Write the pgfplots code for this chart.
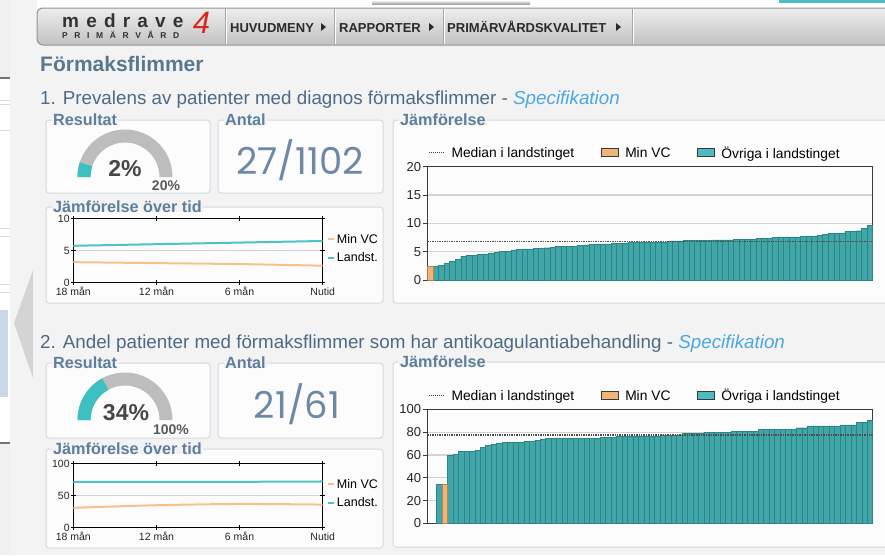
\documentclass[border=0pt]{standalone}
\usepackage{pgfplots}
\usepackage{pgfplotstable}
\pgfplotsset{compat=1.18}
\usepackage{fontspec}
\setmainfont{Liberation Sans}
\newfontfamily\numfont{Poppins}
\newcommand{\fs}[1]{\fontsize{#1}{#1}\selectfont}

\definecolor{pagebg}{HTML}{F3F3F3}
\definecolor{boxbg}{HTML}{FCFCFC}
\definecolor{boxline}{HTML}{D3DAE2}
\definecolor{titleblue}{HTML}{5E7E9D}
\definecolor{headblue}{HTML}{587892}
\definecolor{secblue}{HTML}{4C6A88}
\definecolor{speclink}{HTML}{4BA7E0}
\definecolor{barteal}{HTML}{41A6A7}
\definecolor{baredge}{HTML}{2E8485}
\definecolor{legteal}{HTML}{4DBDBF}
\definecolor{barorange}{HTML}{F0B677}
\definecolor{orangeedge}{HTML}{B98248}
\definecolor{lineteal}{HTML}{4CC3C6}
\definecolor{lineorange}{HTML}{F6C18C}
\definecolor{gaugegray}{HTML}{BDBDBD}
\definecolor{gaugeteal}{HTML}{3DC0C1}
\definecolor{antalcol}{HTML}{6C89A6}
\definecolor{gridgray}{HTML}{D2D2D2}
\definecolor{axisdark}{HTML}{3A3A3A}
\definecolor{menutext}{HTML}{2B2B2B}
\definecolor{logored}{HTML}{D42A1E}
\definecolor{sideblue}{HTML}{C9D7E6}

% ---------- data ----------
\pgfplotstableread{
x y
1 2.45
}\barAmin
\pgfplotstableread{
x y
2 2.4
3 2.6
4 2.9
5 3.3
6 3.6
7 4.2
8 4.4
9 4.4
10 4.5
11 4.6
12 4.8
13 4.9
14 5.0
15 5.1
16 5.3
17 5.4
18 5.5
19 5.5
20 5.6
21 5.6
22 5.7
23 5.8
24 5.9
25 5.9
26 6.0
27 6.0
28 6.1
29 6.2
30 6.3
31 6.4
32 6.4
33 6.4
34 6.5
35 6.5
36 6.5
37 6.6
38 6.6
39 6.6
40 6.6
41 6.7
42 6.7
43 6.7
44 6.8
45 6.9
46 6.9
47 7.0
48 7.0
49 7.0
50 7.0
51 7.0
52 7.1
53 7.1
54 7.1
55 7.1
56 7.2
57 7.2
58 7.2
59 7.2
60 7.3
61 7.4
62 7.4
63 7.5
64 7.6
65 7.6
66 7.6
67 7.6
68 7.7
69 7.8
70 7.8
71 7.9
72 8.0
73 8.2
74 8.2
75 8.3
76 8.6
77 8.6
78 8.7
79 9.1
80 9.7
}\barAteal
\pgfplotstableread{
x y
2 34.4
}\barBmin
\pgfplotstableread{
x y
1 34.4
3 59.6
4 60.4
5 63
6 63
7 63
8 64
9 67
10 68.5
11 69.5
12 70.5
13 71
14 71
15 71
16 71
17 72
18 72
19 73
20 74
21 74.5
22 74.5
23 74.5
24 74.5
25 74.5
26 74.5
27 74.5
28 74.5
29 74.5
30 74.5
31 75.8
32 75.8
33 75.8
34 76.9
35 76.9
36 76.9
37 76.9
38 76.9
39 76.9
40 76.9
41 76.9
42 77.8
43 77.8
44 77.8
45 77.8
46 79.3
47 79.3
48 79.3
49 79.3
50 80.2
51 80.2
52 80.2
53 80.2
54 80.2
55 80.7
56 80.7
57 80.7
58 80.7
59 80.7
60 82.8
61 82.8
62 82.8
63 82.8
64 82.8
65 82.8
66 82.8
67 84
68 84
69 85.7
70 85.7
71 85.7
72 85.7
73 85.7
74 85.7
75 86.6
76 86.6
77 86.6
78 88.6
79 88.6
80 91
}\barBteal
\pgfplotstableread{
x vc land
0 3.2 5.75
6 3.05 6.0
12 2.9 6.25
18 2.65 6.5
}\lineA
\pgfplotstableread{
x vc land
0 31 71.5
6 35 71.5
12 37 71.5
18 36 72
}\lineB

\pgfplotsset{
  legline/.style={legend image code/.code={\draw[##1] (0pt,0pt) -- (16pt,0pt);}},
  legbox/.style={legend image code/.code={\draw[##1] (0pt,-4pt) rectangle (17pt,4pt);}},
  legdash/.style={legend image code/.code={\draw[##1, line width=2pt] (0pt,0pt) -- (6pt,0pt);}},
  barchart/.style={
    scale only axis, width=445.4pt, anchor=south west,
    ymin=0, xtick=\empty, ytick pos=left,
    tick align=outside, major tick length=4pt,
    tick style={axisdark, line width=1pt},
    ymajorgrids, grid style={gridgray, line width=1.2pt},
    axis line style={axisdark, line width=1.2pt},
    /pgf/number format/assume math mode=true,
    yticklabel style={font=\fs{13}, text=black!85, inner xsep=2pt},
    legend columns=3,
    legend style={at={(rel axis cs:0,1)}, anchor=south west, xshift=1pt, yshift=5pt,
      draw=none, fill=none, inner sep=0pt, font=\fs{13.8},
      /tikz/every odd column/.append style={column sep=4pt},
      /tikz/every even column/.append style={column sep=25pt}},
    legend cell align=left,
  },
  barplot/.style={ybar, bar width=1, bar shift=0pt, line width=0.4pt, forget plot},
  linechart/.style={
    scale only axis, width=249.4pt, height=64.2pt, anchor=south west,
    xmin=0, xmax=18, ymin=0,
    xtick={0,6,12,18}, xticklabels={18 mån,12 mån,6 mån,Nutid},
    tick align=center, major tick length=5pt,
    tick style={black, line width=0.8pt},
    axis line style={black, line width=1pt},
    ymajorgrids, grid style={gridgray, line width=1pt},
    /pgf/number format/assume math mode=true,
    ticklabel style={font=\fs{10.5}, text=black!85},
    yticklabel style={inner xsep=1pt, inner ysep=0pt},
    xticklabel style={inner ysep=2pt},
    legend style={at={(rel axis cs:1,0.79)}, anchor=north west, xshift=4pt,
      draw=none, fill=none, inner sep=0pt, font=\fs{12.5}, row sep=3.5pt,
      cells={anchor=west}},
    legdash,
  },
}

\newcommand{\panel}[5]{%
  \draw[boxline, line width=1pt, rounded corners=3pt, fill=boxbg] (#1,-#2) rectangle (#3,-#4);
  \node[anchor=base west, inner xsep=1pt, inner ysep=0pt, text depth=0pt, fill=pagebg,
        text=titleblue, font=\bfseries\fs{16.2}] at (#1+6,-#2-5.2) {#5};
}
\newcommand{\gauge}[2]{%
  \begin{scope}[shift={(125,-#1)}]
    \fill[gaugegray] (180:47.5) arc[start angle=180, end angle=0, radius=47.5]
      -- (0:34.5) arc[start angle=0, end angle=180, radius=34.5] -- cycle;
    \fill[gaugeteal] (180:47.5) arc[start angle=180, end angle=#2, radius=47.5]
      -- (#2:34.5) arc[start angle=#2, end angle=180, radius=34.5] -- cycle;
  \end{scope}
}
\newcommand{\lsp}{\hspace{7.2pt}}
\newcommand{\lspp}{\hspace{6.6pt}}

\begin{document}
\begin{tikzpicture}[x=1pt,y=1pt]
\path[use as bounding box] (0,0) rectangle (885,-555);
\clip (0,0) rectangle (885,-555);
\fill[pagebg] (0,0) rectangle (885,-555);

% top strip
\fill[white] (37,0) rectangle (885,-8);
\shade[top color=white, bottom color=black!35] (372,0) rectangle (530,-4);
\fill[legteal] (779,0) rectangle (885,-3);

% left strip (other window)
\fill[black!6] (0,0) rectangle (10,-555);
\fill[white] (0,-79) rectangle (10,-442);
\draw[black!55, line width=1.5pt] (0,-78) -- (10,-78);
\draw[black!55, line width=1.5pt] (0,-443) -- (10,-443);
\foreach \yy in {100,104,130,228,236,284,292}{
  \draw[black!15, line width=0.8pt] (0,-\yy) -- (10,-\yy);
}
\fill[sideblue] (0,-310) rectangle (8,-397);
\fill[black!17] (33,-270) -- (14,-323) -- (33,-378) -- cycle;

% menu bar
\shade[top color=black!7, bottom color=black!24, rounded corners=6pt]
  (37,-8) rectangle (905,-45);
\draw[black!42, line width=1pt, rounded corners=6pt] (37,-8) rectangle (905,-45);
\foreach \xx in {225,334,443,632}{
  \draw[black!35, line width=0.8pt] (\xx,-9) -- (\xx,-44);
  \draw[white, line width=0.8pt] (\xx+1,-9) -- (\xx+1,-44);
}
\node[anchor=base west, inner sep=0pt, font=\bfseries\fs{19}, text=black!80]
  at (62,-27) {m\lsp e\lsp d\lsp r\lsp a\lsp v\lsp e};
\node[anchor=base west, inner sep=0pt, font=\bfseries\fs{8.5}, text=black!80]
  at (62,-38) {P\lspp R\lspp I\lspp M\lspp Ä\lspp R\lspp V\lspp Å\lspp R\lspp D};
\node[inner sep=0pt, font=\itshape\fs{31}, text=logored]
  at (201.5,-23) {4};
\node[anchor=base west, inner sep=0pt, font=\bfseries\fs{13}, text=menutext]
  at (230,-32) {HUVUDMENY};
\fill[menutext] (321,-23) -- (326,-27) -- (321,-31) -- cycle;
\node[anchor=base west, inner sep=0pt, font=\bfseries\fs{13}, text=menutext]
  at (339,-32) {RAPPORTER};
\fill[menutext] (429,-23) -- (434,-27) -- (429,-31) -- cycle;
\node[anchor=base west, inner sep=0pt, font=\bfseries\fs{13}, text=menutext]
  at (447,-32) {PRIMÄRVÅRDSKVALITET};
\fill[menutext] (616,-23) -- (621,-27) -- (616,-31) -- cycle;

% headings
\node[anchor=base west, inner sep=0pt, font=\bfseries\fs{21}, text=headblue]
  at (40,-71) {Förmaksflimmer};
\node[anchor=base west, inner sep=0pt, font=\fs{18.8}, text=secblue]
  at (40,-104) {1. Prevalens av patienter med diagnos förmaksflimmer - \textcolor{speclink}{\itshape Specifikation}};
\node[anchor=base west, inner sep=0pt, font=\fs{18.8}, text=secblue]
  at (40,-348) {2. Andel patienter med förmaksflimmer som har antikoagulantiabehandling - \textcolor{speclink}{\itshape Specifikation}};

% panels section 1
\panel{46}{120}{210}{193}{Resultat}
\panel{218}{120}{383}{193}{Antal}
\panel{46}{207}{383}{303}{Jämförelse över tid}
\panel{393}{120}{900}{303}{Jämförelse}
% panels section 2
\panel{46}{363}{210}{438}{Resultat}
\panel{218}{363}{383}{438}{Antal}
\panel{46}{449}{383}{548}{Jämförelse över tid}
\panel{393}{362}{900}{547}{Jämförelse}

% gauges
\gauge{177}{162}
\node[font=\bfseries\fs{23}, text=black!72] at (125,-169) {2\%};
\node[font=\bfseries\fs{14}, text=black!65] at (166,-186) {20\%};
\gauge{420}{118.8}
\node[font=\bfseries\fs{23}, text=black!72] at (126,-413) {34\%};
\node[font=\bfseries\fs{14}, text=black!65] at (171,-430) {100\%};

% antal
\node[font=\numfont\fs{37}, text=antalcol] at (300,-160) {27/1102};
\node[font=\numfont\fs{37}, text=antalcol] at (297,-404) {21/61};

% ---------- line chart 1 ----------
\begin{axis}[linechart, at={(73.3pt,-282.7pt)}, ymax=10, ytick={0,5,10}]
\addplot[lineorange, line width=2pt, smooth] table[x=x, y=vc] {\lineA};
\addlegendentry{Min VC}
\addplot[lineteal, line width=2pt, smooth] table[x=x, y=land] {\lineA};
\addlegendentry{Landst.}
\end{axis}

% ---------- line chart 2 ----------
\begin{axis}[linechart, at={(73.3pt,-527.7pt)}, ymax=100, ytick={0,50,100}]
\addplot[lineorange, line width=2pt, smooth] table[x=x, y=vc] {\lineB};
\addlegendentry{Min VC}
\addplot[lineteal, line width=2pt, smooth] table[x=x, y=land] {\lineB};
\addlegendentry{Landst.}
\end{axis}

% ---------- bar chart 1 ----------
\begin{axis}[barchart, at={(427.3pt,-280pt)}, height=113.3pt,
  xmin=0.5, xmax=80.5, ymax=20, ytick={0,5,10,15,20}]
\addlegendimage{legline, densely dotted, line width=1pt, black!75}
\addlegendentry{Median i landstinget}
\addlegendimage{legbox, fill=barorange, draw=axisdark, line width=1pt}
\addlegendentry{Min VC}
\addlegendimage{legbox, fill=legteal, draw=axisdark, line width=1pt}
\addlegendentry{Övriga i landstinget}
\addplot[barplot, fill=barteal, draw=baredge] table[x=x, y=y] {\barAteal};
\addplot[barplot, fill=barorange, draw=orangeedge] table[x=x, y=y] {\barAmin};
\addplot[densely dotted, line width=1.4pt, black!70, forget plot]
  coordinates {(0.5,6.75) (80.5,6.75)};
\end{axis}

% ---------- bar chart 2 ----------
\begin{axis}[barchart, at={(427.3pt,-523.3pt)}, height=113.8pt,
  xmin=-1.2, xmax=80.5, ymax=100, ytick={0,20,40,60,80,100}]
\addlegendimage{legline, densely dotted, line width=1pt, black!75}
\addlegendentry{Median i landstinget}
\addlegendimage{legbox, fill=barorange, draw=axisdark, line width=1pt}
\addlegendentry{Min VC}
\addlegendimage{legbox, fill=legteal, draw=axisdark, line width=1pt}
\addlegendentry{Övriga i landstinget}
\addplot[barplot, fill=barteal, draw=baredge] table[x=x, y=y] {\barBteal};
\addplot[barplot, fill=barorange, draw=orangeedge] table[x=x, y=y] {\barBmin};
\addplot[densely dotted, line width=1.4pt, black!70, forget plot]
  coordinates {(-1.2,77.6) (80.5,77.6)};
\end{axis}
\end{tikzpicture}
\end{document}
